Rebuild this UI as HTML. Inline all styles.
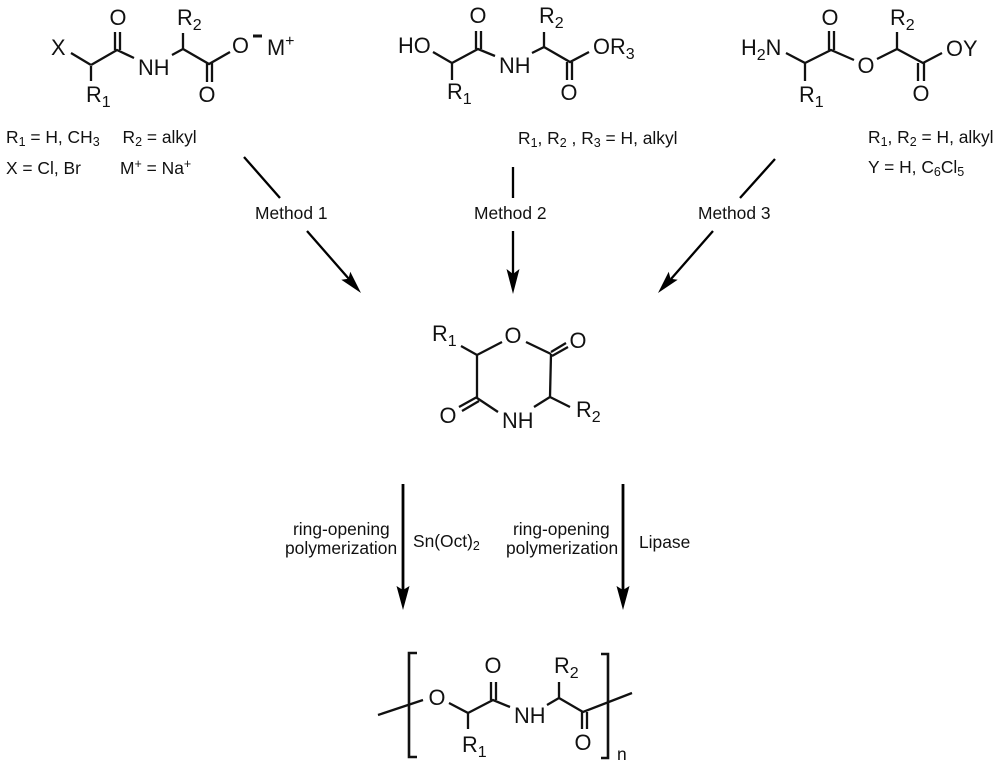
<!DOCTYPE html>
<html><head><meta charset="utf-8"><style>
html,body{margin:0;padding:0;background:#fff}
svg{display:block}
text{font-family:"Liberation Sans",Arial,sans-serif;fill:#111}
.a{font-size:21.8px}
.t{font-size:17.4px}
.a .s{font-size:16px}
.t .s{font-size:12.5px}
.m{text-anchor:middle}
.b{stroke:#111;stroke-width:2.3;fill:none;stroke-linecap:butt}
.r{stroke:#000;stroke-width:2.3;fill:none}
.h{fill:#000}
</style></head><body>
<svg width="1000" height="764" viewBox="0 0 1000 764" xmlns="http://www.w3.org/2000/svg">
<!-- molecule 1 -->
<path class="b" d="M71 53L91 65M91 66V81M91 65L117 50L134 58M115 32V50M120 32V50M172 55L183 49V33M183 49L209 64L230 52M207 63V82M212 63V82"/>
<g class="a">
<text x="51" y="55">X</text>
<text x="118" y="25" class="m">O</text>
<text x="138" y="75">NH</text>
<text x="177" y="25">R<tspan class="s" dy="5">2</tspan></text>
<text x="86" y="102">R<tspan class="s" dy="5">1</tspan></text>
<text x="232" y="53">O</text>
<text x="207" y="102" class="m">O</text>
<text x="267" y="55">M<tspan class="s" dy="-9">+</tspan></text>
</g>
<rect x="253" y="34.5" width="9" height="3" fill="#111"/>
<g class="t">
<text x="6" y="143">R<tspan class="s" dy="3">1</tspan><tspan dy="-3"> = H, CH</tspan><tspan class="s" dy="3">3</tspan></text>
<text x="122.5" y="143">R<tspan class="s" dy="3">2</tspan><tspan dy="-3"> = alkyl</tspan></text>
<text x="6" y="174">X = Cl, Br</text>
<text x="120" y="174">M<tspan class="s" dy="-6">+</tspan><tspan dy="6"> = Na</tspan><tspan class="s" dy="-6">+</tspan></text>
</g>
<!-- molecule 2 -->
<path class="b" d="M433 52L452 63V80M452 63L478 49L495 56M476 31V49M481 31V49M532 53L544 47V32M544 47L570 62L589 52M567 62V80M572 62V80"/>
<g class="a">
<text x="398" y="53">HO</text>
<text x="478" y="23" class="m">O</text>
<text x="499" y="73">NH</text>
<text x="539" y="23">R<tspan class="s" dy="5">2</tspan></text>
<text x="447" y="99">R<tspan class="s" dy="5">1</tspan></text>
<text x="593" y="54">OR<tspan class="s" dy="5">3</tspan></text>
<text x="569" y="100" class="m">O</text>
</g>
<text class="t" x="518" y="144">R<tspan class="s" dy="3">1</tspan><tspan dy="-3">, R</tspan><tspan class="s" dy="3">2</tspan><tspan dy="-3"> , R</tspan><tspan class="s" dy="3">3</tspan><tspan dy="-3"> = H, alkyl</tspan></text>
<!-- molecule 3 -->
<path class="b" d="M786 53L805 63V81M805 63L831 50L854 60M829 31V50M834 31V50M877 59L897 49V32M897 49L923 63L942 53M918 63V81M924 63V81"/>
<g class="a">
<text x="741" y="55">H<tspan class="s" dy="5">2</tspan><tspan dy="-5">N</tspan></text>
<text x="830" y="25" class="m">O</text>
<text x="866" y="73" class="m">O</text>
<text x="890" y="25">R<tspan class="s" dy="5">2</tspan></text>
<text x="799" y="102">R<tspan class="s" dy="5">1</tspan></text>
<text x="946" y="56">OY</text>
<text x="921" y="101" class="m">O</text>
</g>
<g class="t">
<text x="868" y="143">R<tspan class="s" dy="3">1</tspan><tspan dy="-3">, R</tspan><tspan class="s" dy="3">2</tspan><tspan dy="-3"> = H, alkyl</tspan></text>
<text x="868" y="173">Y = H, C<tspan class="s" dy="3">6</tspan><tspan dy="-3">Cl</tspan><tspan class="s" dy="3">5</tspan></text>
</g>
<!-- method arrows -->
<path class="r" d="M244 157L280 198M307 231L349 279M513 167V198M513 231V275M775 159L740 198M713 231L671 279"/>
<polygon class="h" points="361,293 341.300,279.700 348.500,278.700 350.300,271.700"/>
<polygon class="h" points="513,294 506.500,269 513,274 519.500,269"/>
<polygon class="h" points="658,293 668.700,271.700 670.500,278.700 677.700,279.700"/>
<g class="t">
<text x="255" y="219">Method 1</text>
<text x="474" y="219">Method 2</text>
<text x="698" y="219">Method 3</text>
</g>
<!-- ring -->
<path class="b" d="M461 346L477 355L502 342M526 342L551 354M551 352L566 343M552 356L568 347M551 354L550 397L534 407M498 412L477 398V355M477 397L459 407M479 401L462 411M550 397L570 407"/>
<g class="a">
<text x="432" y="341">R<tspan class="s" dy="5">1</tspan></text>
<text x="513" y="343" class="m">O</text>
<text x="578" y="348" class="m">O</text>
<text x="502" y="428">NH</text>
<text x="448" y="423" class="m">O</text>
<text x="576" y="417">R<tspan class="s" dy="5">2</tspan></text>
</g>
<!-- ROP arrows -->
<path class="r" style="stroke-width:2.8" d="M403 484V592M623 484V592"/>
<polygon class="h" points="403,610 396.500,586 403,590 409.500,586"/>
<polygon class="h" points="623,610 616.500,586 623,590 629.500,586"/>
<g class="t">
<text x="293" y="535">ring-opening</text>
<text x="285" y="554">polymerization</text>
<text x="413" y="547">Sn(Oct)<tspan class="s" dy="3">2</tspan></text>
<text x="513" y="535">ring-opening</text>
<text x="506" y="554">polymerization</text>
<text x="639" y="548">Lipase</text>
</g>
<!-- polymer -->
<path class="b" d="M378 715L423 700M449 703L468 713V729M468 713L493 700L510 707M491 682V700M496 682V700M547 705L559 698V682M559 698L583 712L632 693M582 712V729M587 712V729"/>
<path class="b" style="stroke-width:2.6" d="M417 653H409V757H417M601 654H608V758H601"/>
<g class="a">
<text x="437" y="705" class="m">O</text>
<text x="493" y="673" class="m">O</text>
<text x="514" y="723">NH</text>
<text x="554" y="673">R<tspan class="s" dy="5">2</tspan></text>
<text x="462" y="752">R<tspan class="s" dy="5">1</tspan></text>
<text x="583" y="750" class="m">O</text>
</g>
<text class="t" x="617" y="760">n</text>
</svg>
</body></html>
